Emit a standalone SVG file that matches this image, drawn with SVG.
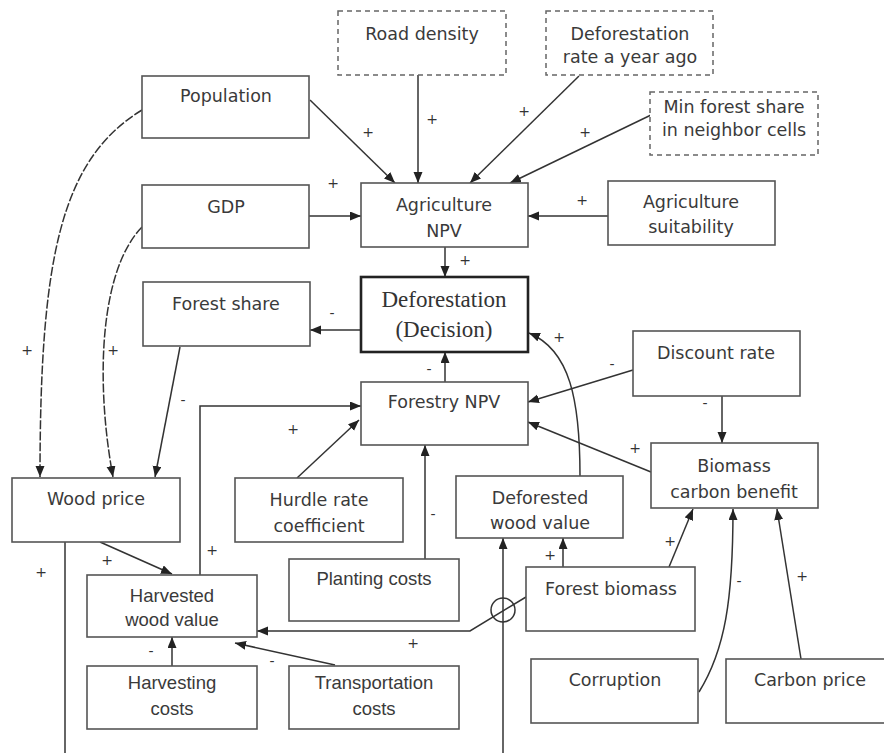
<svg xmlns="http://www.w3.org/2000/svg" width="884" height="753" viewBox="0 0 884 753">
<defs>
<marker id="ah" markerUnits="userSpaceOnUse" markerWidth="12" markerHeight="10" refX="11" refY="4.5" orient="auto">
<path d="M0,0 L11,4.5 L0,9 z" fill="#222"/>
</marker>
<style>
.box{fill:#fff;stroke:#555;stroke-width:1.6}
.dbox{fill:#fff;stroke:#666;stroke-width:1.5;stroke-dasharray:5 4}
.thick{fill:#fff;stroke:#222;stroke-width:2.6}
.t{font-family:"DejaVu Sans",Verdana,sans-serif;font-size:17.5px;fill:#3a3a3a;text-anchor:middle}
.a{font-family:"Liberation Sans",Arial,sans-serif;font-size:18.5px;fill:#3a3a3a;text-anchor:middle}
.s{font-family:"Liberation Serif","Times New Roman",serif;font-size:23px;fill:#333;text-anchor:middle}
.c line,.c path,.c polyline{fill:none;stroke:#333;stroke-width:1.5}
.c .ar{marker-end:url(#ah)}
.c .dsh{stroke-dasharray:9 2}
.l{font-family:"DejaVu Sans",sans-serif;font-size:14px;fill:#333;text-anchor:middle}
</style>
</defs>
<rect width="884" height="753" fill="#fff"/>

<g id="connectors" class="c">
<line class="ar" x1="310" y1="100" x2="395" y2="183"/>
<line class="ar" x1="418" y1="75" x2="418" y2="183"/>
<line class="ar" x1="579" y1="76" x2="470" y2="183"/>
<line class="ar" x1="651" y1="115" x2="510" y2="183"/>
<line class="ar" x1="608" y1="216" x2="528" y2="216"/>
<line class="ar" x1="309" y1="216" x2="361" y2="216"/>
<line class="ar" x1="445" y1="247" x2="445" y2="277"/>
<line class="ar" x1="361" y1="330" x2="310" y2="330"/>
<line class="ar" x1="445" y1="382" x2="445" y2="352"/>
<line class="ar" x1="633" y1="370" x2="528" y2="402"/>
<line class="ar" x1="722" y1="396" x2="722" y2="443"/>
<line class="ar" x1="651" y1="472" x2="528" y2="422"/>
<path class="ar" d="M580,476 C580,400 570,350 529,333"/>
<line class="ar" x1="297" y1="478" x2="359" y2="420"/>
<line class="ar" x1="425" y1="559" x2="425" y2="445"/>
<polyline class="ar" points="200,575 200,406 361,406"/>
<line class="ar" x1="180" y1="347" x2="155" y2="477"/>
<path class="ar dsh" d="M142,110 C60,160 40,260 40,477"/>
<path class="ar dsh" d="M142,227 C100,270 95,380 113,477"/>
<line class="ar" x1="100" y1="542" x2="172" y2="574"/>
<line x1="65" y1="542" x2="65" y2="753"/>
<line class="ar" x1="172" y1="666" x2="172" y2="637"/>
<line class="ar" x1="335" y1="665" x2="235" y2="643"/>
<polyline class="ar" points="526,597 470,631 257,631"/>
<line class="ar" x1="503" y1="753" x2="503" y2="538"/>
<circle cx="503" cy="610" r="12" fill="none" stroke="#333" stroke-width="1.5"/>
<line class="ar" x1="563" y1="567" x2="563" y2="538"/>
<line class="ar" x1="669" y1="567" x2="693" y2="509"/>
<path class="ar" d="M699,692 C725,650 733,600 733,509"/>
<line class="ar" x1="801" y1="659" x2="777" y2="509"/>

<text class="l" x="368" y="137">+</text>
<text class="l" x="333" y="188">+</text>
<text class="l" x="432" y="124">+</text>
<text class="l" x="524" y="116">+</text>
<text class="l" x="585" y="137">+</text>
<text class="l" x="582" y="205">+</text>
<text class="l" x="465" y="265">+</text>
<text class="l" x="332" y="318">-</text>
<text class="l" x="429" y="374">-</text>
<text class="l" x="559" y="342">+</text>
<text class="l" x="612" y="369">-</text>
<text class="l" x="705" y="408">-</text>
<text class="l" x="635" y="453">+</text>
<text class="l" x="293" y="434">+</text>
<text class="l" x="433" y="519">-</text>
<text class="l" x="212" y="555">+</text>
<text class="l" x="183" y="405">-</text>
<text class="l" x="27" y="355">+</text>
<text class="l" x="113" y="355">+</text>
<text class="l" x="107" y="565">+</text>
<text class="l" x="41" y="577">+</text>
<text class="l" x="151" y="656">-</text>
<text class="l" x="272" y="666">-</text>
<text class="l" x="413" y="648">+</text>
<text class="l" x="550" y="560">+</text>
<text class="l" x="670" y="546">+</text>
<text class="l" x="739" y="586">-</text>
<text class="l" x="802" y="581">+</text>
</g>

<g id="road-density"><rect class="dbox" x="338" y="11" width="168" height="64"/><text class="t" x="422" y="40">Road density</text></g>
<g id="deforestation-rate"><rect class="dbox" x="546" y="11" width="167" height="64"/><text class="t" x="630" y="40">Deforestation</text><text class="t" x="630" y="63">rate a year ago</text></g>
<g id="min-forest-share"><rect class="dbox" x="650" y="92" width="168" height="63"/><text class="t" x="734" y="113">Min forest share</text><text class="t" x="734" y="136">in neighbor cells</text></g>
<g id="population"><rect class="box" x="142" y="76" width="167" height="62"/><text class="t" x="226" y="102">Population</text></g>
<g id="gdp"><rect class="box" x="142" y="185" width="167" height="63"/><text class="t" x="226" y="213">GDP</text></g>
<g id="agriculture-npv"><rect class="box" x="361" y="183" width="167" height="64"/><text class="t" x="444" y="211">Agriculture</text><text class="t" x="444" y="237">NPV</text></g>
<g id="agriculture-suitability"><rect class="box" x="608" y="181" width="167" height="64"/><text class="t" x="691" y="208">Agriculture</text><text class="t" x="691" y="233">suitability</text></g>
<g id="deforestation-decision"><rect class="thick" x="361" y="277" width="167" height="75"/><text class="s" x="444" y="307">Deforestation</text><text class="s" x="444" y="337">(Decision)</text></g>
<g id="forest-share"><rect class="box" x="143" y="282" width="167" height="64"/><text class="t" x="226" y="310">Forest share</text></g>
<g id="discount-rate"><rect class="box" x="633" y="331" width="167" height="65"/><text class="t" x="716" y="359">Discount rate</text></g>
<g id="forestry-npv"><rect class="box" x="361" y="382" width="167" height="63"/><text class="t" x="444" y="408">Forestry NPV</text></g>
<g id="biomass-carbon-benefit"><rect class="box" x="651" y="443" width="167" height="65"/><text class="t" x="734" y="472">Biomass</text><text class="t" x="734" y="498">carbon benefit</text></g>
<g id="wood-price"><rect class="box" x="12" y="478" width="168" height="64"/><text class="t" x="96" y="505">Wood price</text></g>
<g id="hurdle-rate"><rect class="box" x="235" y="478" width="168" height="64"/><text class="t" x="319" y="506">Hurdle rate</text><text class="t" x="319" y="532">coefficient</text></g>
<g id="deforested-wood-value"><rect class="box" x="456" y="476" width="167" height="62"/><text class="t" x="540" y="504">Deforested</text><text class="t" x="540" y="529">wood value</text></g>
<g id="harvested-wood-value"><rect class="box" x="87" y="575" width="170" height="62"/><text class="a" x="172" y="602">Harvested</text><text class="a" x="172" y="626">wood value</text></g>
<g id="planting-costs"><rect class="box" x="289" y="559" width="170" height="62"/><text class="a" x="374" y="585">Planting costs</text></g>
<g id="forest-biomass"><rect class="box" x="526" y="567" width="169" height="64"/><text class="t" x="611" y="595">Forest biomass</text></g>
<g id="harvesting-costs"><rect class="box" x="87" y="666" width="170" height="63"/><text class="a" x="172" y="689">Harvesting</text><text class="a" x="172" y="715">costs</text></g>
<g id="transportation-costs"><rect class="box" x="289" y="666" width="170" height="63"/><text class="a" x="374" y="689">Transportation</text><text class="a" x="374" y="715">costs</text></g>
<g id="corruption"><rect class="box" x="531" y="659" width="167" height="64"/><text class="t" x="615" y="686">Corruption</text></g>
<g id="carbon-price"><rect class="box" x="726" y="659" width="168" height="64"/><text class="t" x="810" y="686">Carbon price</text></g>
</svg>
